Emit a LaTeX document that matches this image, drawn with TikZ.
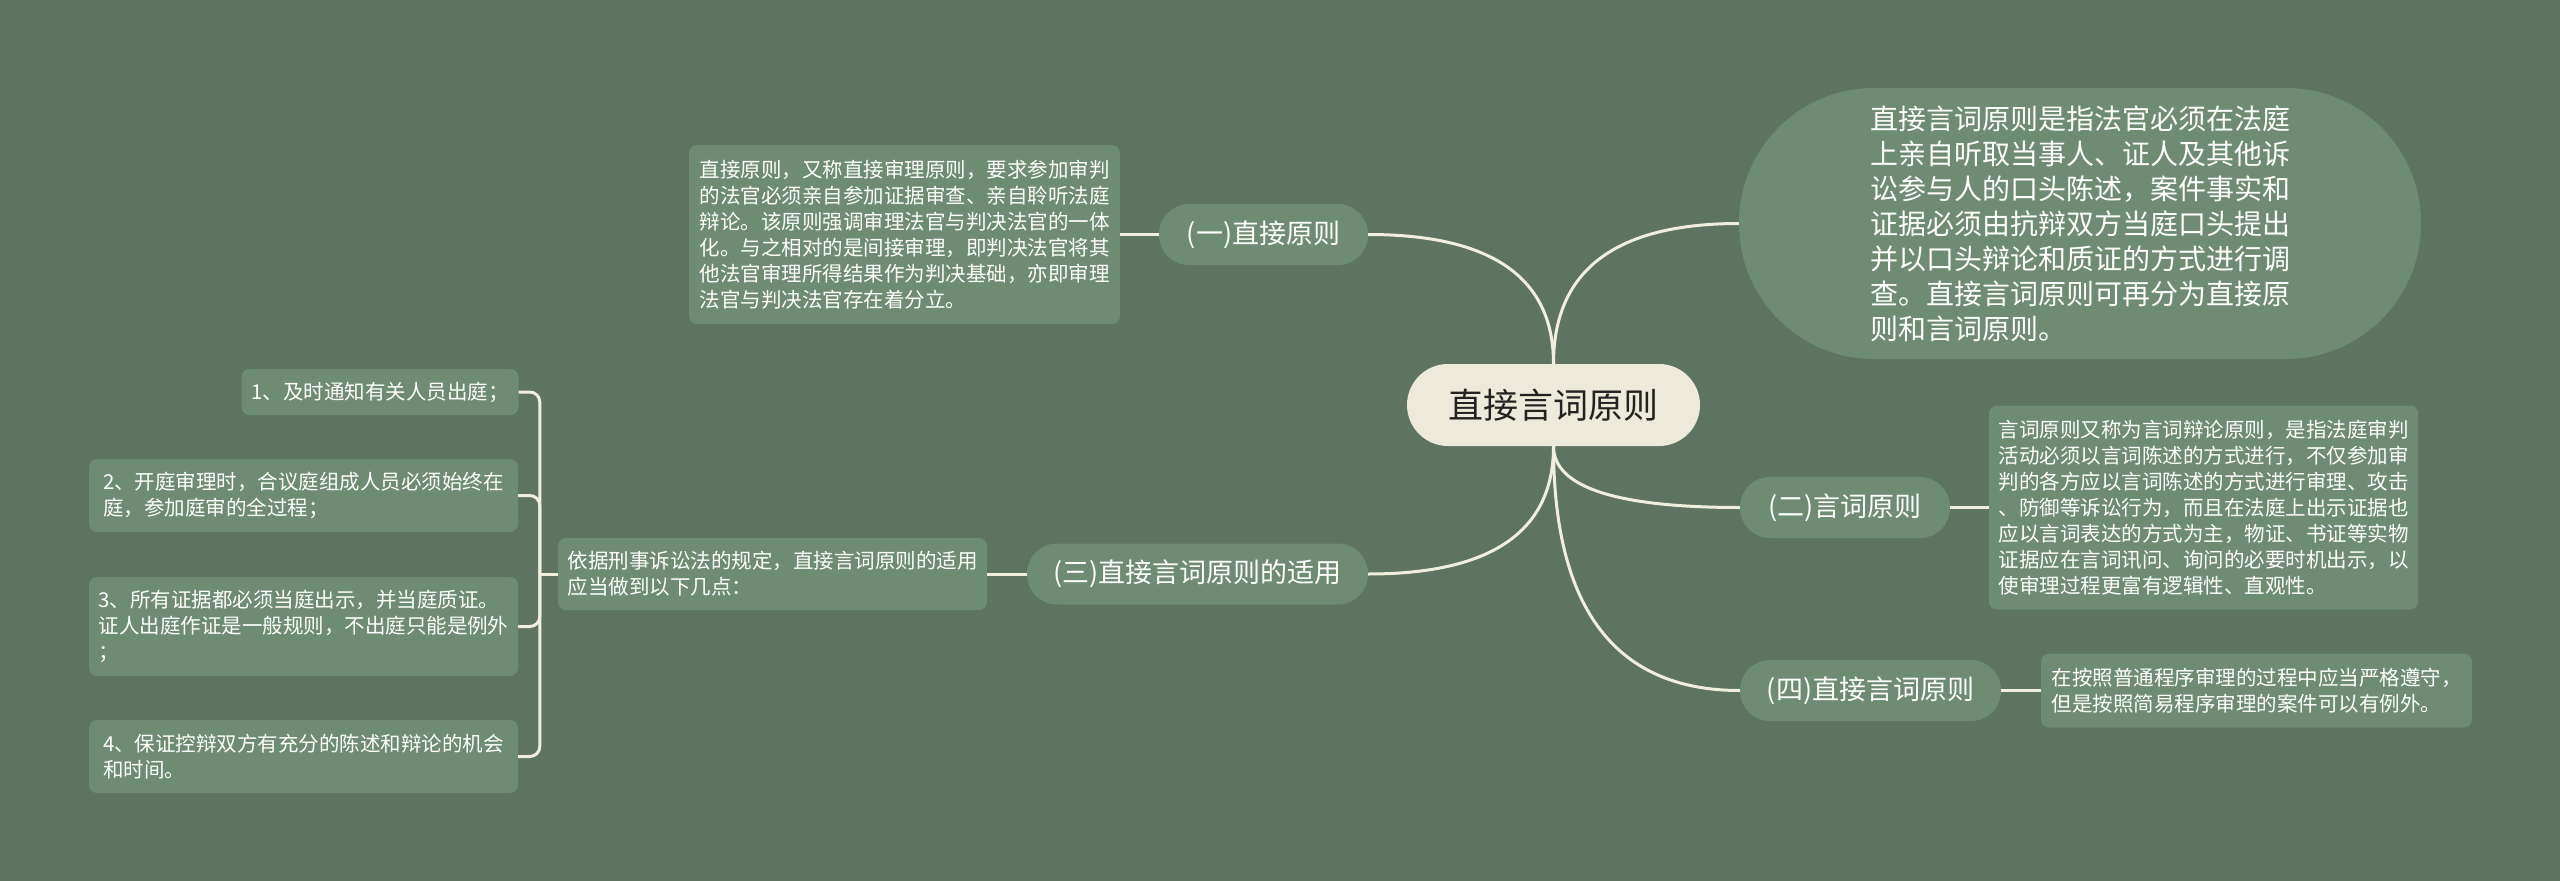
\documentclass[tikz,border=0pt]{standalone}
\usepackage{fontspec}
\newfontfamily\cjk{Noto Sans CJK SC}
\usetikzlibrary{calc}
\definecolor{bg}{HTML}{5F7362}
\definecolor{boxfill}{HTML}{6E8B73}
\definecolor{cream}{HTML}{EEEADB}
\definecolor{linec}{HTML}{F2EEDF}
\definecolor{darktext}{HTML}{222222}
\newcommand\qcurve[3]{\draw[conn] (#1) .. controls ($(#1)!0.6667!(#2)$) and ($(#3)!0.6667!(#2)$) .. (#3);}
\begin{document}
\begin{tikzpicture}[x=1pt,y=-1pt,
  conn/.style={draw=linec, line width=3pt},
  textbox/.style={fill=boxfill, rounded corners=8pt, inner sep=0pt, align=left, text=white, font=\cjk\fontsize{20.5}{26}\selectfont},
  branch/.style={fill=boxfill, rounded corners=30pt, inner sep=0pt, minimum height=61pt, text=white, font=\cjk\fontsize{27}{32}\selectfont},
  rootnode/.style={fill=cream, rounded corners=41pt, inner sep=0pt, minimum width=293pt, minimum height=82pt, text=darktext, font=\cjk\fontsize{35}{40}\selectfont},
  bignode/.style={fill=boxfill, rounded corners=135pt, inner sep=0pt, minimum width=682pt, minimum height=271pt, align=left, text=white, font=\cjk\fontsize{28}{35}\selectfont},
]
\fill[bg] (0,0) rectangle (2560,881);
\useasboundingbox (0,0) rectangle (2560,881);

% root
\node[rootnode] (c) at (1553.5,405) {直接言词原则};

% top-right definition
\node[bignode] (big) at (2080,223.5) {直接言词原则是指法官必须在法庭\\
上亲自听取当事人、证人及其他诉\\
讼参与人的口头陈述，案件事实和\\
证据必须由抗辩双方当庭口头提出\\
并以口头辩论和质证的方式进行调\\
查。直接言词原则可再分为直接原\\
则和言词原则。};

% branches
\node[branch, minimum width=209pt] (b1) at (1263.5,234.5) {(一)直接原则};
\node[branch, minimum width=210pt] (b2) at (1845,507.5) {(二)言词原则};
\node[branch, minimum width=341pt] (b3) at (1197.5,574) {(三)直接言词原则的适用};
\node[branch, minimum width=261pt] (b4) at (1870.5,690.5) {(四)直接言词原则};

% details
\node[textbox, minimum width=431pt, minimum height=179pt] (d1) at (904.5,234.5) {直接原则，又称直接审理原则，要求参加审判\\
的法官必须亲自参加证据审查、亲自聆听法庭\\
辩论。该原则强调审理法官与判决法官的一体\\
化。与之相对的是间接审理，即判决法官将其\\
他法官审理所得结果作为判决基础，亦即审理\\
法官与判决法官存在着分立。};

\node[textbox, minimum width=429pt, minimum height=204pt] (d2) at (2203.5,507.5) {言词原则又称为言词辩论原则，是指法庭审判\\
活动必须以言词陈述的方式进行，不仅参加审\\
判的各方应以言词陈述的方式进行审理、攻击\\
、防御等诉讼行为，而且在法庭上出示证据也\\
应以言词表达的方式为主，物证、书证等实物\\
证据应在言词讯问、询问的必要时机出示，以\\
使审理过程更富有逻辑性、直观性。};

\node[textbox, minimum width=431pt, minimum height=74pt] (d4) at (2256.5,690.5) {在按照普通程序审理的过程中应当严格遵守，\\
但是按照简易程序审理的案件可以有例外。};

\node[textbox, minimum width=429pt, minimum height=72pt] (d3) at (772.5,574) {依据刑事诉讼法的规定，直接言词原则的适用\\
应当做到以下几点：};

% items
\node[textbox, minimum width=277pt, minimum height=46pt] (i1) at (380,392) {1、及时通知有关人员出庭；};
\node[textbox, minimum width=429pt, minimum height=73pt] (i2) at (303.5,495.5) {2、开庭审理时，合议庭组成人员必须始终在\\
庭，参加庭审的全过程；};
\node[textbox, minimum width=429pt, minimum height=99pt] (i3) at (303.5,626.5) {3、所有证据都必须当庭出示，并当庭质证。\\
证人出庭作证是一般规则，不出庭只能是例外\\
；};
\node[textbox, minimum width=429pt, minimum height=73pt] (i4) at (303.5,756.5) {4、保证控辩双方有充分的陈述和辩论的机会\\
和时间。};

% root connectors (curves)
\coordinate (kbig) at (c.north |- big.west);
\coordinate (kb1) at (c.north |- b1.east);
\coordinate (kb2) at (c.south |- b2.west);
\coordinate (kb3) at (c.south |- b3.east);
\coordinate (kb4) at (c.south |- b4.west);
\qcurve{c.north}{kbig}{big.west}
\qcurve{c.north}{kb1}{b1.east}
\qcurve{c.south}{kb2}{b2.west}
\qcurve{c.south}{kb3}{b3.east}
\qcurve{c.south}{kb4}{b4.west}

% branch to detail
\draw[conn] (b1.west) -- (d1.east);
\draw[conn] (b2.east) -- (d2.west);
\draw[conn] (b4.east) -- (d4.west);
\draw[conn] (b3.west) -- (d3.east);

% bracket to items
\coordinate (j) at ($(d3.west)+(-18,0)$);
\draw[conn] (d3.west) -- (j);
\draw[conn, rounded corners=10pt] (j) |- (i1.east);
\draw[conn, rounded corners=10pt] (j) |- (i2.east);
\draw[conn, rounded corners=10pt] (j) |- (i3.east);
\draw[conn, rounded corners=10pt] (j) |- (i4.east);
\end{tikzpicture}
\end{document}
